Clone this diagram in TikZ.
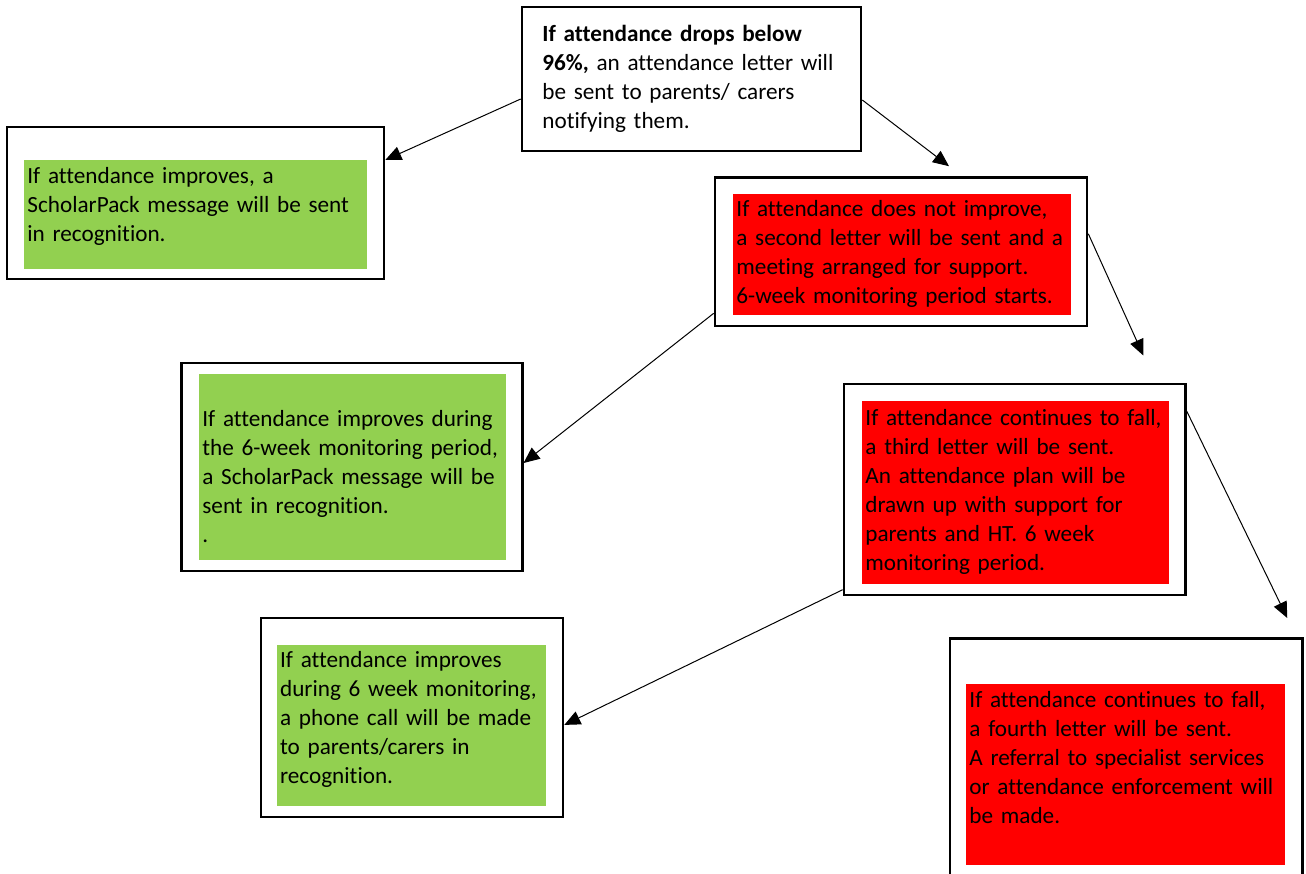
\documentclass[tikz,border=0pt]{standalone}
\usepackage{fontspec}
\setmainfont{Carlito}[Ligatures=NoCommon]
\usetikzlibrary{arrows.meta}
\definecolor{okgreen}{HTML}{92D050}
\definecolor{alertred}{HTML}{FF0000}
\hyphenpenalty=10000
\exhyphenpenalty=10000

\begin{document}
\begin{tikzpicture}[x=0.5pt,y=-0.5pt,
  frame/.style={draw,line width=1.3pt,inner sep=0pt},
  note/.style={anchor=north west,text width=#1,align=left,inner xsep=1.5pt,inner ysep=0pt,font=\fontsize{11.6}{14.5}\selectfont},
  good/.style={note=#1,fill=okgreen},
  bad/.style={note=#1,fill=alertred},
  link/.style={->,line width=0.5pt},
  >={Triangle[length=8pt,width=7pt]}]
\clip (0,0) rectangle (1306,873);
%FIRST LETTER
\node [frame,minimum width=169.5pt,minimum height=72pt] (letter1) at (691.5,79) {};
\node [note=160pt,anchor=base west] (letter1txt) at (539,41.7) {\textbf{If attendance drops below}\\ \textbf{96\%,} an attendance letter will\\ be sent to parents/ carers\\ notifying them.};
%IMPROVES AFTER FIRST LETTER
\node [frame,minimum width=188.5pt,minimum height=76pt] (better1) at (195.5,203) {};
\node [good=168.5pt,text height=11.7pt,text depth=43pt] (better1txt) at (24,159.3) {If attendance improves, a\\ ScholarPack message will be sent\\ in recognition.};
%SECOND LETTER
\node [frame,minimum width=186pt,minimum height=74.25pt] (letter2) at (901,251.75) {};
\node [bad=166pt,text height=11.2pt,text depth=49.65pt] (letter2txt) at (733,193.3) {If attendance does not improve,\\ a second letter will be sent and a\\ meeting arranged for support.\\ 6-week monitoring period starts.};
%IMPROVES DURING FIRST MONITORING
\node [frame,minimum width=170.25pt,minimum height=104pt] (better2) at (352,467) {};
\node [good=150.5pt,text height=26pt,text depth=67pt] (better2txt) at (199,374) {If attendance improves during\\ the 6-week monitoring period,\\ a ScholarPack message will be\\ sent in recognition.\\ .};
%THIRD LETTER
\node [frame,minimum width=170.75pt,minimum height=105.5pt] (letter3) at (1014.75,489.5) {};
\node [bad=150.5pt,text height=12pt,text depth=79.15pt] (letter3txt) at (862,401) {If attendance continues to fall,\\ a third letter will be sent.\\ An attendance plan will be\\ drawn up with support for\\ parents and HT. 6 week\\ monitoring period.};
%IMPROVES DURING SECOND MONITORING
\node [frame,minimum width=151pt,minimum height=99.5pt] (better3) at (412,717.5) {};
\node [good=131.65pt,text height=11.2pt,text depth=69.5pt] (better3txt) at (276.7,644.3) {If attendance improves\\ during 6 week monitoring,\\ a phone call will be made\\ to parents/carers in\\ recognition.};
%FOURTH LETTER
\node [frame,minimum width=176.25pt,minimum height=130.75pt] (letter4) at (1126.25,769.25) {};
\node [bad=156.5pt,text height=11.7pt,text depth=78.8pt] (letter4txt) at (966,683.3) {If attendance continues to fall,\\ a fourth letter will be sent.\\ A referral to specialist services\\ or attendance enforcement will\\ be made.};
%ARROWS
\draw [link] ([yshift=-10pt]letter1.west) -- ([yshift=21.5pt]better1.east);
\draw [link] ([yshift=-10.5pt]letter1.east) -- ([xshift=24pt,yshift=5pt]letter2.north);
\draw [link] ([yshift=7pt]letter2.south west) -- ([yshift=2pt]better2.east);
\draw [link] ([yshift=9pt]letter2.east) -- ([xshift=64.3pt,yshift=13.6pt]letter3.north);
\draw [link] ([yshift=3.3pt]letter3.south west) -- ([yshift=-3.7pt]better3.east);
\draw [link] ([yshift=-14.3pt]letter3.north east) -- ([xshift=80.5pt,yshift=9.6pt]letter4.north);
\end{tikzpicture}
\end{document}
